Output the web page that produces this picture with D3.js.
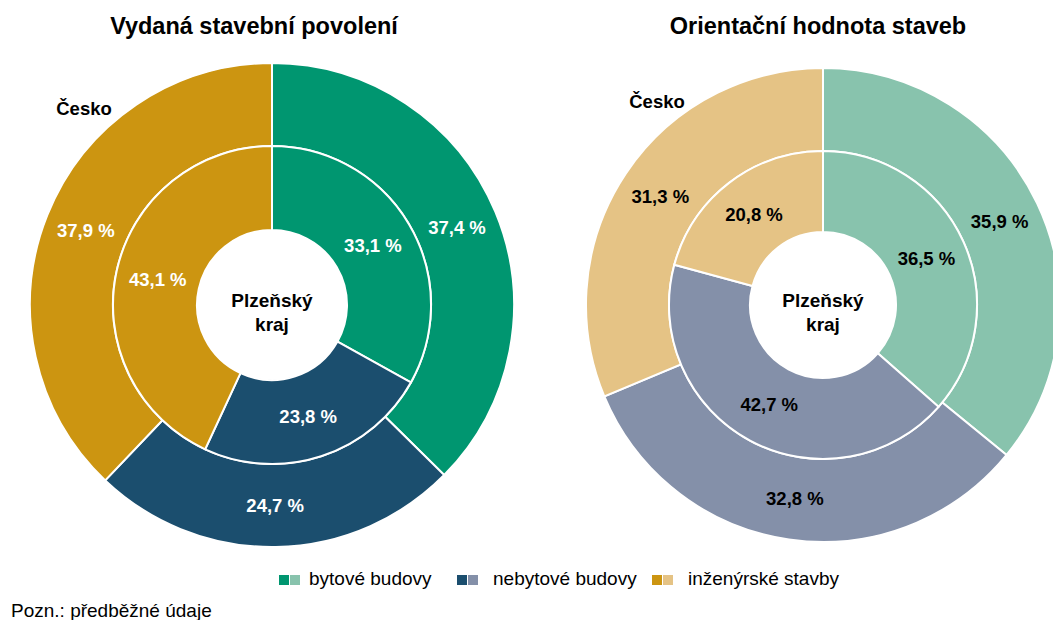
<!DOCTYPE html>
<html><head><meta charset="utf-8">
<script src="https://cdn.jsdelivr.net/npm/d3@7"></script>
<style>body{margin:0;background:#fff;font-family:"Liberation Sans",Arial,sans-serif;}</style>
</head><body>
<svg id="c" width="1053" height="620"></svg>
<script>
const categories = ["bytové budovy", "nebytové budovy", "inženýrské stavby"];
const titles = ["Vydaná stavební povolení", "Orientační hodnota staveb"];
const permitsCesko = [37.4, 24.7, 37.9];
const permitsPlzen = [33.1, 23.8, 43.1];
const valueCesko = [35.9, 32.8, 31.3];
const valuePlzen = [36.5, 42.7, 20.8];
const darkColors = ["#009670", "#1b4e6e", "#cc9511"];
const lightColors = ["#88c3ad", "#8490a9", "#e5c385"];
const outerLabel = "Česko";
const centerLabel = ["Plzeňský", "kraj"];
const note = "Pozn.: předběžné údaje";

const svg = d3.select("#c");
const fmt = v => d3.format(".1f")(v).replace(".", ",") + " %";

const charts = [
  {title: titles[0], outer: permitsCesko, inner: permitsPlzen, colors: darkColors, text: "#fff",
   cx: 272, cy: 305, rO: 242, rM: 159, rI: 75, tx: 254, lx: 84, ly: 115},
  {title: titles[1], outer: valueCesko, inner: valuePlzen, colors: lightColors, text: "#000",
   cx: 823, cy: 305, rO: 237, rM: 154, rI: 73, tx: 818, lx: 657, ly: 108}
];

const pie = d3.pie().sort(null).value(d => d);

charts.forEach(c => {
  const g = svg.append("g").attr("transform", `translate(${c.cx},${c.cy})`);
  const rings = [
    {data: c.outer, r0: c.rM, r1: c.rO},
    {data: c.inner, r0: c.rI, r1: c.rM}
  ];
  rings.forEach(r => {
    const arc = d3.arc().innerRadius(r.r0).outerRadius(r.r1);
    const arcs = pie(r.data);
    g.selectAll(null).data(arcs).enter().append("path")
      .attr("d", arc).attr("fill", (d, i) => c.colors[i])
      .attr("stroke", "#fff").attr("stroke-width", 2);
    g.selectAll(null).data(arcs).enter().append("text")
      .attr("transform", d => `translate(${arc.centroid(d)})`)
      .attr("text-anchor", "middle").attr("dy", "0.35em")
      .attr("font-size", 18.5).attr("font-weight", "bold").attr("fill", c.text)
      .text(d => fmt(d.data));
  });
  g.append("text").attr("text-anchor", "middle").attr("font-size", 19).attr("font-weight", "bold")
    .selectAll("tspan").data(centerLabel).enter().append("tspan")
    .attr("x", 0).attr("y", (d, i) => 2 + i * 24).text(d => d);
  svg.append("text").attr("x", c.tx).attr("y", 34).attr("text-anchor", "middle")
    .attr("font-size", 23.5).attr("font-weight", "bold").text(c.title);
  svg.append("text").attr("x", c.lx).attr("y", c.ly).attr("text-anchor", "middle")
    .attr("font-size", 18.5).attr("font-weight", "bold").text(outerLabel);
});

// legend
const legSq = [279, 457, 652];
const legTx = [309, 493, 688];
const lg = svg.append("g");
categories.forEach((cat, i) => {
  lg.append("rect").attr("x", legSq[i]).attr("y", 575).attr("width", 10).attr("height", 10).attr("fill", darkColors[i]);
  lg.append("rect").attr("x", legSq[i] + 11).attr("y", 575).attr("width", 10).attr("height", 10).attr("fill", lightColors[i]);
  lg.append("text").attr("x", legTx[i]).attr("y", 585).attr("font-size", 19).text(cat);
});
svg.append("text").attr("x", 11).attr("y", 617).attr("font-size", 19).text(note);
</script>
</body></html>
